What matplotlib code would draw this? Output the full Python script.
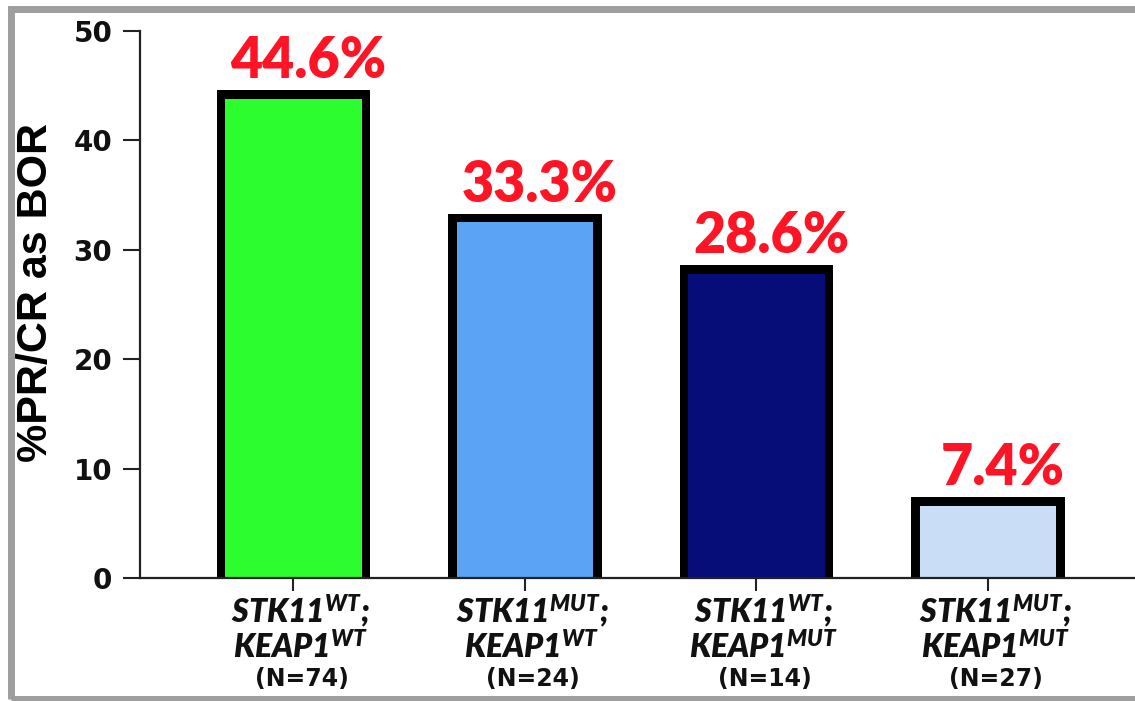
import matplotlib
matplotlib.use("Agg")
import matplotlib.pyplot as plt
from matplotlib.patches import Rectangle

# mathtext for the WT / MUT superscripts, same face as the labels
plt.rcParams['mathtext.fontset'] = 'custom'
plt.rcParams['mathtext.it'] = 'Lato:italic:heavy'
plt.rcParams['mathtext.rm'] = 'Lato:italic:heavy'
plt.rcParams['mathtext.bf'] = 'Lato:italic:heavy'

# data
groups_top = [r"STK11$^{WT}$;", r"STK11$^{MUT}$;", r"STK11$^{WT}$;", r"STK11$^{MUT}$;"]
groups_bottom = [r"KEAP1$^{WT}$", r"KEAP1$^{WT}$", r"KEAP1$^{MUT}$", r"KEAP1$^{MUT}$"]
n_labels = ["(N=74)", "(N=24)", "(N=14)", "(N=27)"]
response_pct = [44.6, 33.3, 28.6, 7.4]
bar_colors = ['#2bfd2e', '#5aa3f5', '#060c78', '#c9def6']

fig = plt.figure(figsize=(11.35, 7.01), dpi=100)
ax = fig.add_axes([140 / 1135, 123 / 701, 995 / 1135, 547 / 701])

x = list(range(len(response_pct)))
bar_w = 0.663
ax.set_xlim(-0.663, 3.635)
ax.set_ylim(0, 50)

# border thickness (8.5 px) converted to data units
px_x = ax.transData.transform((1, 0))[0] - ax.transData.transform((0, 0))[0]
px_y = ax.transData.transform((0, 1))[1] - ax.transData.transform((0, 0))[1]
bx = 8.5 / px_x
by = 8.5 / px_y

# black outer block, coloured fill inset (border drawn inside, no bottom edge)
ax.bar(x, response_pct, width=bar_w, color='black', zorder=1)
ax.bar(x, [v - by for v in response_pct], width=bar_w - 2 * bx,
       color=bar_colors, zorder=1.5)

for i, v in enumerate(response_pct):
    ax.annotate(f"{v}%", xy=(i, v), xytext=(15, 12), textcoords='offset pixels',
                ha='center', va='baseline', color='#ff1426',
                fontsize=40, fontweight='heavy', family='Lato')

# category labels under the axis
for i in x:
    lab_xy = dict(xy=(i, 0), xycoords=('data', 'axes fraction'),
                  textcoords='offset pixels', ha='center', va='baseline')
    ax.annotate(groups_top[i], xytext=(7, -45), family='Lato', style='italic',
                fontweight='heavy', fontsize=23, color='#111111', **lab_xy)
    ax.annotate(groups_bottom[i], xytext=(7, -81), family='Lato', style='italic',
                fontweight='heavy', fontsize=23, color='#111111', **lab_xy)
    ax.annotate(n_labels[i], xytext=(8, -108), family='DejaVu Sans',
                fontweight='bold', fontsize=17, color='#111111', **lab_xy)

ax.set_xticks(x)
ax.set_xticklabels([])
ax.set_yticks([0, 10, 20, 30, 40, 50])
ax.tick_params(axis='x', length=9, width=1.5, color='#222222')
ax.tick_params(axis='y', length=12, width=1.5, color='#222222', pad=8,
               labelsize=20, labelcolor='#111111')
for lab in ax.get_yticklabels():
    lab.set_fontweight('bold')
    lab.set_family('DejaVu Sans')

ax.spines['top'].set_visible(False)
ax.spines['right'].set_visible(False)
for s in ['left', 'bottom']:
    ax.spines[s].set_linewidth(1.6)
    ax.spines[s].set_color('#222222')
    ax.spines[s].set_zorder(3)

ax.set_ylabel("%PR/CR as BOR", family='Liberation Sans', fontweight='bold',
              fontsize=31, va='center', ha='center')
ax.yaxis.set_label_coords((36 - 140) / 995, (578 - 292) / 547)

# grey frame around the picture (right side runs off the edge)
frame = Rectangle((10.5 / 1135, 2 / 701), 1.2, (692 - 2) / 701,
                  transform=fig.transFigure, fill=False,
                  edgecolor='#9e9e9e', linewidth=5.0)
fig.patches.append(frame)

fig.savefig("out.png", dpi=100)
